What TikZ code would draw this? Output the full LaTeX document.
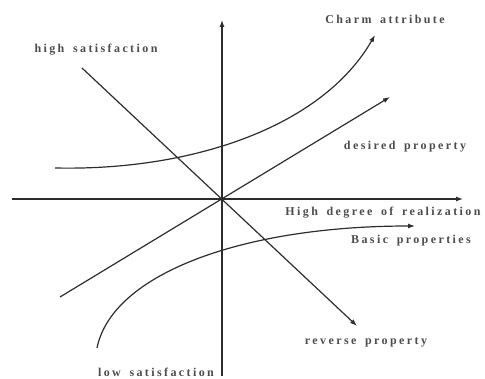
\documentclass[tikz,border=0pt]{standalone}
\usepackage{fontspec}
\setmainfont{Liberation Serif}[LetterSpace=20, WordSpace=1.6]
\usetikzlibrary{arrows.meta, positioning}

\begin{document}
\begin{tikzpicture}[x=1pt,y=1pt]
  \definecolor{axisgray}{RGB}{45,45,45}
  \tikzset{
    curveline/.style={axisgray, line width=1.2pt},
    tipline/.style={curveline, -{Latex[length=7pt,width=5pt]}},
    tag/.style={font=\fontsize{12}{14}\selectfont\bfseries, text=axisgray!85, inner sep=0pt}
  }
  \useasboundingbox (-222,-180) rectangle (263,199);
  % axes
  \coordinate (O) at (0,0);
  \coordinate (xl) at (-210,0);
  \coordinate (xr) at (241,0);
  \coordinate (yb) at (0,-177);
  \coordinate (yt) at (0,179);
  \draw[tipline] (xl) -- (xr);
  \draw[tipline] (yb) -- (yt);
  % straight properties
  \coordinate (desS) at (-162,-98);
  \coordinate (desE) at (168,102);
  \coordinate (revS) at (-140,131);
  \coordinate (revE) at (135,-127);
  \draw[tipline] (desS) -- (desE);
  \draw[tipline] (revS) -- (revE);
  % curved properties
  \coordinate (chaS) at (-167,31);
  \coordinate (chaE) at (153,164);
  \coordinate (basS) at (-125,-149);
  \coordinate (basE) at (193,-27);
  \draw[tipline] (chaS) .. controls (-30,28) and (100,72) .. (chaE);
  \draw[tipline] (basS) .. controls (-110,-75) and (20,-27) .. (basE);
  % labels
  \node[tag] (charm) at (163,180) {Charm attribute};
  \node[tag] (hisat) at (-126,149) {high satisfaction};
  \node[tag] (desired) at (183,52) {desired property};
  \node[tag] (realize) at (161,-14) {High degree of realization};
  \node[tag] (basic) at (189,-42) {Basic properties};
  \node[tag] (reverse) at (144,-143) {reverse property};
  \node[tag] (losat) at (-66,-173) {low satisfaction};
\end{tikzpicture}
\end{document}
